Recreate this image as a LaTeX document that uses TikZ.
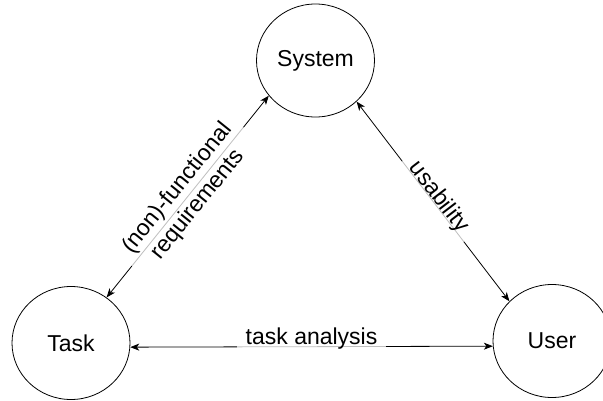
\documentclass[tikz,border=0pt]{standalone}
\usepackage{fontspec}
\setmainfont{Liberation Sans}
\usetikzlibrary{arrows.meta, shapes.geometric}

\begin{document}
\begin{tikzpicture}[x=1pt, y=-1pt,
    entity/.style={draw, ellipse, line width=0.8pt, minimum width=118pt,
                   minimum height=113pt, inner sep=0pt,
                   font=\fontsize{23}{26}\selectfont},
    link/.style={{Stealth[length=9pt,width=7pt,inset=2.5pt]}-{Stealth[length=9pt,width=7pt,inset=2.5pt]},
                 line width=0.8pt},
    tag/.style={fill=white, fill opacity=0.75, text opacity=1,
                inner xsep=9pt, inner ysep=2pt,
                font=\fontsize{23}{26}\selectfont}]
  \useasboundingbox (0,0) rectangle (603,400);
  % kreise
  \node[entity] (sys)  at (315.5,60.5) {System};
  \node[entity] (task) at (71,343)     {Task};
  \node[entity] (user) at (552,341)    {User};
  % kanten
  \draw[link] (task.52) -- node[tag, sloped, align=center] {(non)-functional\\requirements} (sys.217);
  \draw[link] (sys.315) -- node[tag, sloped, anchor=base, yshift=1pt] {usability} (user.137);
  \draw[link] (task.356) -- node[tag, anchor=base, yshift=2pt] {task analysis} (user.185);
\end{tikzpicture}
\end{document}
